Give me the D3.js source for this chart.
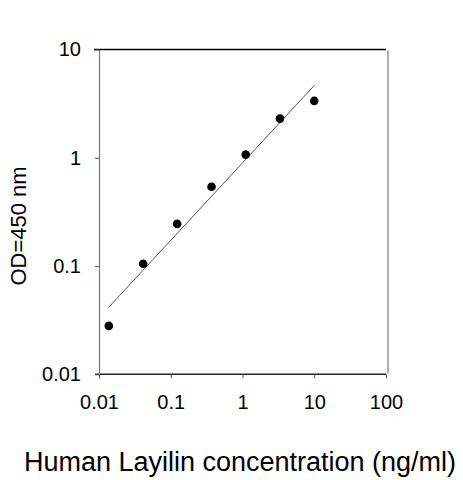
<!DOCTYPE html>
<html>
<head>
<meta charset="utf-8">
<script src="https://cdn.jsdelivr.net/npm/d3@7"></script>
<style>
  body { margin: 0; background: #fff; }
  text { font-family: "Liberation Sans", Arial, sans-serif; fill: #000; }
</style>
</head>
<body>
<svg id="chart" width="463" height="480"></svg>
<script>
// concentration of standard (ng/ml), 3-fold dilutions
const conc = [0.0137, 0.0412, 0.123, 0.37, 1.11, 3.33, 10];
// measured OD at 450 nm
const od = [0.028, 0.105, 0.245, 0.54, 1.07, 2.3, 3.35];
const xTicks = [0.01, 0.1, 1, 10, 100];
const yTicks = [0.01, 0.1, 1, 10];
const xTitle = "Human Layilin concentration (ng/ml)";
const yTitle = "OD=450 nm";

const svg = d3.select("#chart");
const plotLeft = 99, plotRight = 386, plotTop = 49.5, plotBottom = 374.3;

const x = d3.scaleLog().domain([0.01, 100]).range([plotLeft, plotRight]);
const y = d3.scaleLog().domain([0.01, 10]).range([plotBottom, plotTop]);

// straight line fit in log-log space
const lx = conc.map(Math.log10), ly = od.map(Math.log10);
const mx = d3.mean(lx), my = d3.mean(ly);
const slope = d3.sum(lx, (d, i) => (d - mx) * (ly[i] - my)) / d3.sum(lx, d => (d - mx) ** 2);
const fitY = (c) => Math.pow(10, my + slope * (Math.log10(c) - mx));

// frame: top black, right grey
svg.append("line")
    .attr("x1", plotLeft - 5).attr("x2", plotRight)
    .attr("y1", plotTop).attr("y2", plotTop)
    .attr("stroke", "#000").attr("stroke-width", 1.5);
svg.append("line")
    .attr("x1", plotRight + 2).attr("x2", plotRight + 2)
    .attr("y1", plotTop + 1).attr("y2", plotBottom - 1)
    .attr("stroke", "#777").attr("stroke-width", 1.2);

// axes
const xAxis = svg.append("g")
    .attr("transform", `translate(0,${plotBottom})`)
    .call(d3.axisBottom(x).tickValues(xTicks).tickFormat(d3.format("~g")).tickSize(4).tickSizeOuter(0));
const yAxis = svg.append("g")
    .attr("transform", `translate(${plotLeft},0)`)
    .call(d3.axisLeft(y).tickValues(yTicks).tickFormat(d3.format("~g")).tickSize(4).tickSizeOuter(0));

xAxis.select(".domain").attr("stroke", "#222").attr("stroke-width", 1.5)
    .attr("d", `M${plotLeft - 4},0H${plotRight}`);
yAxis.select(".domain").attr("stroke", "#777").attr("stroke-width", 1.2);
xAxis.selectAll(".tick line").attr("stroke", "#555");
yAxis.selectAll(".tick line").attr("stroke", "#555");
xAxis.selectAll(".tick text")
    .attr("font-size", 20).attr("font-family", "Liberation Sans, Arial, sans-serif")
    .attr("y", 0).attr("dy", "1.75em");
yAxis.selectAll(".tick text")
    .attr("font-size", 20).attr("font-family", "Liberation Sans, Arial, sans-serif")
    .attr("x", -18);

// fit line
svg.append("line")
    .attr("x1", x(d3.min(conc))).attr("y1", y(fitY(d3.min(conc))))
    .attr("x2", x(d3.max(conc))).attr("y2", y(fitY(d3.max(conc))))
    .attr("stroke", "#555").attr("stroke-width", 1);

// points
svg.append("g")
    .selectAll("circle")
    .data(conc)
    .join("circle")
    .attr("cx", d => x(d))
    .attr("cy", (d, i) => y(od[i]))
    .attr("r", 4.3)
    .attr("fill", "#000");

// titles
svg.append("text")
    .attr("x", 240).attr("y", 471)
    .attr("text-anchor", "middle")
    .attr("font-size", 27)
    .text(xTitle);
svg.append("text")
    .attr("transform", "translate(26,226) rotate(-90)")
    .attr("text-anchor", "middle")
    .attr("font-size", 22)
    .text(yTitle);
</script>
</body>
</html>
